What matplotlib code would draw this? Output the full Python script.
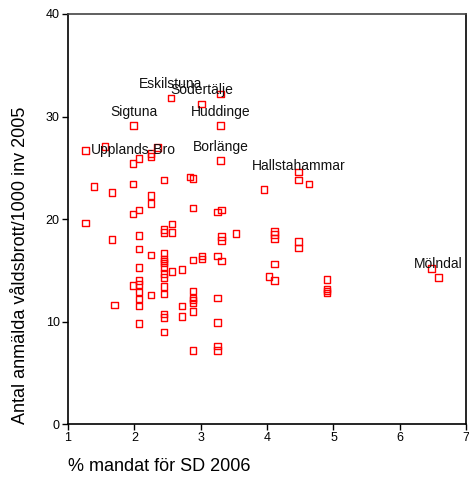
import matplotlib
matplotlib.use("Agg")
import matplotlib.pyplot as plt

# % mandat för SD 2006 (x) och anmälda våldsbrott/1000 inv 2005 (y)
sd_andel = [2.55, 3.30, 3.01, 1.99, 3.30, 1.26, 1.56, 2.35, 2.25, 2.25,
            2.07, 1.98, 3.30, 1.39, 1.98, 2.45, 2.84, 2.88, 1.66, 4.47,
            4.47, 4.63, 3.95, 2.25, 2.25, 2.07, 1.98, 2.88, 3.25, 3.31,
            1.26, 2.57, 2.45, 2.45, 2.57, 1.66, 2.07, 3.53, 3.31, 3.31,
            4.11, 4.11, 4.11, 4.47, 4.47, 2.07, 2.25, 2.45, 2.45, 2.45,
            2.45, 2.45, 2.88, 3.02, 3.02, 3.25, 3.31, 2.07, 2.57, 2.72,
            2.45, 2.45, 2.07, 1.98, 2.07, 2.45, 2.07, 2.25, 2.45, 2.88,
            2.07, 2.88, 2.88, 2.88, 3.25, 1.70, 2.07, 2.72, 2.72, 2.88,
            2.45, 2.45, 2.07, 3.25, 2.45, 2.88, 3.25, 3.25, 4.11, 4.03,
            4.11, 4.90, 4.90, 4.90, 4.90, 6.48, 6.58]
valdsbrott = [31.8, 32.2, 31.2, 29.1, 29.1, 26.7, 27.1, 27.0, 26.4, 26.1,
              25.9, 25.4, 25.7, 23.2, 23.4, 23.8, 24.1, 23.96, 22.6, 24.6,
              23.8, 23.4, 22.9, 22.3, 21.5, 20.9, 20.5, 21.1, 20.7, 20.9,
              19.6, 19.5, 19.0, 18.7, 18.7, 18.0, 18.4, 18.6, 18.3, 17.9,
              18.8, 18.5, 18.1, 17.8, 17.2, 17.1, 16.5, 16.7, 16.1, 15.9,
              15.7, 15.3, 16.0, 16.4, 16.1, 16.4, 15.9, 15.3, 14.9, 15.1,
              14.7, 14.3, 14.0, 13.5, 13.6, 13.4, 12.9, 12.6, 12.7, 13.0,
              12.2, 12.3, 12.1, 11.8, 12.3, 11.6, 11.5, 11.5, 10.5, 11.0,
              10.75, 10.4, 9.8, 9.9, 9.0, 7.2, 7.6, 7.2, 15.6, 14.4,
              14.0, 14.1, 13.2, 13.0, 12.8, 15.2, 14.3]

# kommuner med etikett
kommun = ["Eskilstuna", "Södertälje", "Sigtuna", "Huddinge",
          "Upplands-Bro", "Borlänge", "Hallstahammar", "Mölndal"]
kommun_x = [2.55, 3.01, 1.99, 3.30, 1.98, 3.30, 4.47, 6.58]
kommun_y = [31.8, 31.2, 29.1, 29.1, 25.4, 25.7, 23.8, 14.3]

x_ticks = [1, 2, 3, 4, 5, 6, 7]
y_ticks = [0, 10, 20, 30, 40]

plt.rcParams["font.family"] = ["Liberation Sans", "DejaVu Sans"]

fig = plt.figure(figsize=(4.69, 4.99), dpi=100)
ax = fig.add_axes([0.145, 0.150, 0.849, 0.822])

ax.scatter(sd_andel, valdsbrott, marker="s", s=22, facecolors="none",
           edgecolors="red", linewidths=1.0, zorder=3)

for namn, kx, ky in zip(kommun, kommun_x, kommun_y):
    ax.annotate(namn, (kx, ky), xytext=(0, 10), textcoords="offset points",
                ha="center", va="center", fontsize=10, color="#111111")

ax.set_xlim(1, 7)
ax.set_ylim(0, 40)
ax.set_xticks(x_ticks)
ax.set_yticks(y_ticks)
ax.tick_params(axis="both", direction="out", length=4, width=1,
               labelsize=9, pad=2)

for side in ["left", "bottom", "right"]:
    ax.spines[side].set_color("black")
    ax.spines[side].set_linewidth(1.2)
ax.spines["top"].set_color("#444444")
ax.spines["top"].set_linewidth(1.2)

ax.set_xlabel("% mandat för SD 2006", loc="left", fontsize=13, labelpad=10)
ax.set_ylabel("Antal anmälda våldsbrott/1000 inv 2005", loc="bottom",
              fontsize=13, labelpad=12)

fig.savefig("out.png", dpi=100)
